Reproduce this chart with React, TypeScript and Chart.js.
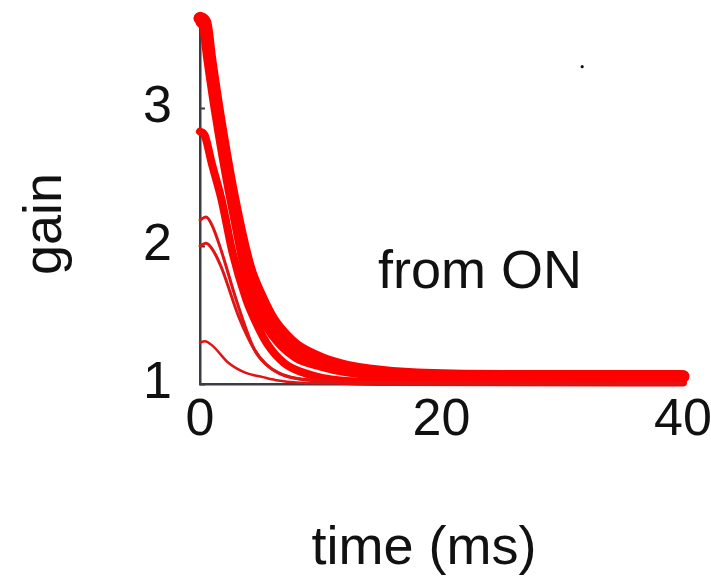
import React, { useEffect, useRef } from "react";
import { Chart, registerables } from "chart.js";

Chart.register(...registerables);

// ---- data (time in ms, gain) ----
const TIME_A = [0, 0.4, 0.8, 1.5, 2.7, 4, 5, 6, 7, 8, 10, 12, 14, 18, 25, 40];
const GAIN_A = [3.65, 3.62, 3.36, 2.95, 2.35, 1.85, 1.63, 1.46, 1.35, 1.27, 1.18, 1.125, 1.095, 1.065, 1.055, 1.055];

const TIME_A2 = [0, 0.5, 1, 1.6, 2.5, 3.5, 4.5, 5.5, 6.5, 8, 10, 12, 15, 20, 40];
const GAIN_A2 = [3.62, 3.55, 3.25, 2.9, 2.4, 1.92, 1.6, 1.42, 1.3, 1.19, 1.13, 1.09, 1.06, 1.045, 1.045];

const TIME_B = [0, 0.4, 1, 1.8, 2.7, 3.8, 4.4, 5.5, 7, 9, 11.6, 15, 40];
const GAIN_B = [2.83, 2.8, 2.59, 2.33, 1.95, 1.62, 1.49, 1.3, 1.15, 1.07, 1.025, 1.015, 1.01];

const TIME_C = [0, 0.5, 1, 1.75, 3, 4.5, 5.5, 6.5, 8, 10, 14, 40];
const GAIN_C = [2.19, 2.21, 2.15, 1.97, 1.61, 1.25, 1.14, 1.08, 1.04, 1.02, 1.01, 1.005];

const TIME_D = [0, 0.5, 1, 1.75, 3.2, 4.5, 5.5, 7, 9, 12, 40];
const GAIN_D = [2.0, 2.02, 1.98, 1.85, 1.49, 1.25, 1.14, 1.06, 1.03, 1.01, 1.005];

const TIME_E = [0, 0.4, 1, 2.4, 3.8, 5.2, 6.5, 8, 10, 40];
const GAIN_E = [1.3, 1.31, 1.28, 1.15, 1.08, 1.05, 1.025, 1.01, 1.005, 1.0];

const STRAY_DOT_T = [31.65];
const STRAY_DOT_G = [3.3];

const X_TICKS = [0, 20, 40];
const Y_TICKS = [1, 2, 3];
const X_MIN = 0;
const X_MAX = 40;
const Y_MIN = 1;
const Y_MAX = 3.58;

const X_TITLE = "time (ms)";
const Y_TITLE = "gain";
const ANNOT_TEXT = "from ON";
const ANNOT_T = 14.75;
const ANNOT_G = 1.695;

const FONT_FAMILY = '"Liberation Sans", Arial, Helvetica, sans-serif';
const FONT_SIZE = 54;
const TICK_FONT_SIZE = 52;

const pts = (xs: number[], ys: number[]) => xs.map((x, i) => ({ x, y: ys[i] }));

const labelsPlugin = {
  id: "labelsPlugin",
  beforeDatasetsDraw(chart: any) {
    const { ctx } = chart;
    const y = chart.scales.y;
    const left = chart.chartArea.left;
    ctx.save();
    ctx.strokeStyle = "#3c3c46";
    ctx.lineWidth = 2;
    Y_TICKS.forEach((v) => {
      const py = Math.round(y.getPixelForValue(v)) + 0.5;
      ctx.beginPath();
      ctx.moveTo(left, py);
      ctx.lineTo(left + 5, py);
      ctx.stroke();
    });
    ctx.restore();
  },
  afterDraw(chart: any) {
    const { ctx, chartArea } = chart;
    const xs = chart.scales.x;
    const ys = chart.scales.y;
    ctx.save();
    ctx.fillStyle = "#111";
    ctx.font = `${FONT_SIZE}px ${FONT_FAMILY}`;
    // annotation
    ctx.textAlign = "left";
    ctx.textBaseline = "alphabetic";
    ctx.fillText(ANNOT_TEXT, xs.getPixelForValue(ANNOT_T), ys.getPixelForValue(ANNOT_G));
    // x title
    ctx.textAlign = "center";
    ctx.textBaseline = "middle";
    ctx.fillText(X_TITLE, chartArea.left + 224, chartArea.bottom + 165);
    // y title
    ctx.translate(46, chartArea.top + 196);
    ctx.rotate(-Math.PI / 2);
    ctx.fillText(Y_TITLE, 0, 0);
    ctx.restore();
  },
};

export default function App() {
  const ref = useRef<HTMLCanvasElement>(null);

  useEffect(() => {
    if (!ref.current) return;
    const red = "#ff0000";
    const thinRed = "#e01414";
    const mk = (data: any[], color: string, width: number) => ({
      data,
      borderColor: color,
      backgroundColor: color,
      borderWidth: width,
      pointRadius: 0,
      borderCapStyle: "round",
      borderJoinStyle: "round",
      cubicInterpolationMode: "monotone",
      clip: false,
      fill: false,
    });
    const chart = new Chart(ref.current, {
      type: "line",
      data: {
        datasets: [
          mk(pts(TIME_E, GAIN_E), thinRed, 2.5),
          mk(pts(TIME_D, GAIN_D), thinRed, 3),
          mk(pts(TIME_C, GAIN_C), thinRed, 3),
          mk(pts(TIME_B, GAIN_B), red, 8),
          mk(pts(TIME_A2, GAIN_A2), red, 9),
          mk(pts(TIME_A, GAIN_A), red, 13),
          {
            data: pts(STRAY_DOT_T, STRAY_DOT_G),
            showLine: false,
            pointRadius: 1.6,
            pointBorderWidth: 0,
            pointBackgroundColor: "#111",
            borderColor: "#111",
            clip: false,
          } as any,
        ] as any,
      },
      options: {
        animation: false,
        responsive: false,
        devicePixelRatio: 1,
        layout: { padding: { left: 0, top: 28, right: 28, bottom: 0 } },
        plugins: {
          legend: { display: false },
          tooltip: { enabled: false },
          title: { display: false },
        },
        scales: {
          x: {
            type: "linear",
            min: X_MIN,
            max: X_MAX,
            grid: { display: false, drawTicks: false },
            border: { display: true, color: "#3c3c46", width: 2.5 },
            ticks: {
              color: "#111",
              font: { family: FONT_FAMILY, size: TICK_FONT_SIZE },
              padding: 5,
              maxRotation: 0,
            },
            afterBuildTicks: (s: any) => {
              s.ticks = X_TICKS.map((v) => ({ value: v }));
            },
            afterFit: (s: any) => {
              s.height = 200;
              s.paddingLeft = 0;
              s.paddingRight = 0;
            },
          },
          y: {
            type: "linear",
            min: Y_MIN,
            max: Y_MAX,
            grid: { display: false, drawTicks: false },
            border: { display: true, color: "#3c3c46", width: 2.5 },
            ticks: {
              color: "#111",
              font: { family: FONT_FAMILY, size: TICK_FONT_SIZE },
              padding: 28,
            },
            afterBuildTicks: (s: any) => {
              s.ticks = Y_TICKS.map((v) => ({ value: v }));
            },
            afterFit: (s: any) => {
              s.width = 200;
              s.paddingTop = 0;
              s.paddingBottom = 0;
            },
          },
        },
      } as any,
      plugins: [labelsPlugin],
    });
    return () => chart.destroy();
  }, []);

  return (
    <div style={{ position: "fixed", left: 0, top: 0, width: 711, height: 584, background: "#fff" }}>
      <canvas ref={ref} width={711} height={584} style={{ width: 711, height: 584, display: "block" }} />
    </div>
  );
}
